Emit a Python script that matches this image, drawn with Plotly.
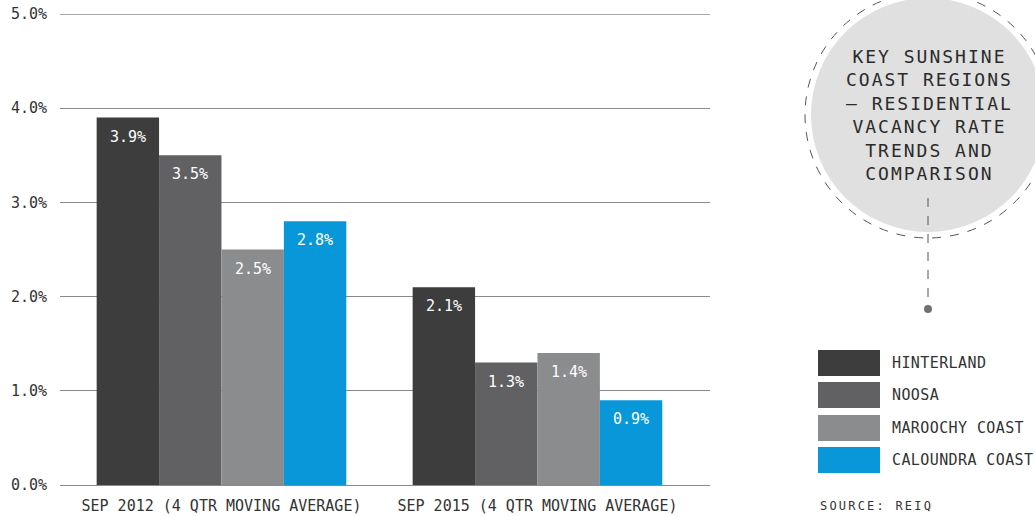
import plotly.graph_objects as go

# Residential vacancy rates, key Sunshine Coast regions (source: REIQ)
periods = ["SEP 2012 (4 QTR MOVING AVERAGE)", "SEP 2015 (4 QTR MOVING AVERAGE)"]
regions = ["HINTERLAND", "NOOSA", "MAROOCHY COAST", "CALOUNDRA COAST"]
hinterland = [3.9, 2.1]
noosa = [3.5, 1.3]
maroochy = [2.5, 1.4]
caloundra = [2.8, 0.9]
colors = ["#3d3d3d", "#616163", "#8b8c8e", "#0897d8"]
y_ticks = [0, 1, 2, 3, 4, 5]
y_tick_text = ["0.0%", "1.0%", "2.0%", "3.0%", "4.0%", "5.0%"]
title_lines = ["KEY SUNSHINE", "COAST REGIONS", "– RESIDENTIAL", "VACANCY RATE", "TRENDS AND", "COMPARISON"]
source_text = "SOURCE: REIQ"

series = [hinterland, noosa, maroochy, caloundra]

FONT = "DejaVu Sans Mono"
INK = "#333333"
BARGAP = 0.21
GRID = "#8a8a8a"

# plot area in pixels (1035 x 517 canvas)
L, R, T, B = 60, 710, 14, 485
W, H = R - L, B - T


def px_x(p):
    return (p - L) / W


def px_y(p):
    return (B - p) / H


def spaced(text, ls):
    return f'<span style="letter-spacing:{ls}px">{text}</span>'


fig = go.Figure()
for name, vals, col in zip(regions, series, colors):
    fig.add_trace(go.Bar(
        x=periods, y=vals, name=name, marker=dict(color=col, line=dict(width=0)),
        showlegend=False, hoverinfo="skip",
    ))

# value labels near the top of each bar
n = len(series)
bw = (1 - BARGAP) / n
annotations = []
for i, vals in enumerate(series):
    off = -(1 - BARGAP) / 2 + bw * (i + 0.5)
    for j, v in enumerate(vals):
        annotations.append(dict(
            x=j + off, y=v, xref="x", yref="y", text=f"{v:.1f}%",
            showarrow=False, yanchor="top", yshift=-8,
            font=dict(family=FONT, size=15, color="white"),
        ))

# title inside the circle
annotations.append(dict(
    x=px_x(929), y=px_y(115), xref="paper", yref="paper",
    text="<br>".join(spaced(t, 2) for t in title_lines),
    showarrow=False, xanchor="center", yanchor="middle", align="center",
    font=dict(family=FONT, size=18, color="#2b2b2b"),
))

shapes = []
# top gridline at 5.0%
shapes.append(dict(type="line", xref="paper", yref="y", x0=0, x1=1, y0=y_ticks[-1], y1=y_ticks[-1],
                   line=dict(color=GRID, width=1.3), layer="below"))
# circle fill and dashed outline
cx, cy = 928, 115
shapes.append(dict(type="circle", xref="paper", yref="paper",
                   x0=px_x(cx - 117), x1=px_x(cx + 117), y0=px_y(cy + 117), y1=px_y(cy - 117),
                   fillcolor="#e0e0e0", line=dict(width=0), layer="below"))
shapes.append(dict(type="circle", xref="paper", yref="paper",
                   x0=px_x(cx - 123), x1=px_x(cx + 123), y0=px_y(cy + 123), y1=px_y(cy - 123),
                   fillcolor="rgba(0,0,0,0)", line=dict(color="#555555", width=1, dash="dash")))
# connector from circle to legend
shapes.append(dict(type="line", xref="paper", yref="paper",
                   x0=px_x(cx), x1=px_x(cx), y0=px_y(198), y1=px_y(306),
                   line=dict(color="#555555", width=1, dash="dash")))
shapes.append(dict(type="circle", xref="paper", yref="paper",
                   x0=px_x(cx - 4), x1=px_x(cx + 4), y0=px_y(313), y1=px_y(305),
                   fillcolor="#707070", line=dict(width=0)))

# legend: swatches and labels
row_tops = [350, 382, 415, 447]
for name, col, top in zip(regions, colors, row_tops):
    shapes.append(dict(type="rect", xref="paper", yref="paper",
                       x0=px_x(818), x1=px_x(880), y0=px_y(top + 26), y1=px_y(top),
                       fillcolor=col, line=dict(width=0)))
    annotations.append(dict(
        x=px_x(890), y=px_y(top + 13), xref="paper", yref="paper",
        text=spaced(name, 0.4), showarrow=False, xanchor="left", yanchor="middle",
        font=dict(family=FONT, size=15, color=INK),
    ))

annotations.append(dict(
    x=px_x(818), y=px_y(506), xref="paper", yref="paper",
    text=spaced(source_text, 2.2), showarrow=False, xanchor="left", yanchor="middle",
    font=dict(family=FONT, size=12, color=INK),
))

fig.update_layout(
    width=1035, height=517,
    margin=dict(l=L, r=1035 - R, t=T, b=517 - B, pad=0),
    paper_bgcolor="white", plot_bgcolor="white",
    barmode="group", bargap=BARGAP, bargroupgap=0,
    annotations=annotations, shapes=shapes,
    font=dict(family=FONT, color=INK),
    xaxis=dict(
        type="category", range=[-0.511, 1.546], showgrid=False, showline=False,
        zeroline=False, ticks="", tickfont=dict(family=FONT, size=15, color=INK),
        ticklabelstandoff=10, automargin=False, fixedrange=True,
    ),
    yaxis=dict(
        range=[0, 5], tickvals=y_ticks, ticktext=y_tick_text,
        showgrid=True, gridcolor=GRID, gridwidth=1.3,
        zeroline=True, zerolinecolor=GRID, zerolinewidth=1.3,
        showline=False, ticks="", ticklabelstandoff=12, automargin=False,
        tickfont=dict(family=FONT, size=15, color=INK), fixedrange=True,
    ),
)

fig.write_html("out.html")
